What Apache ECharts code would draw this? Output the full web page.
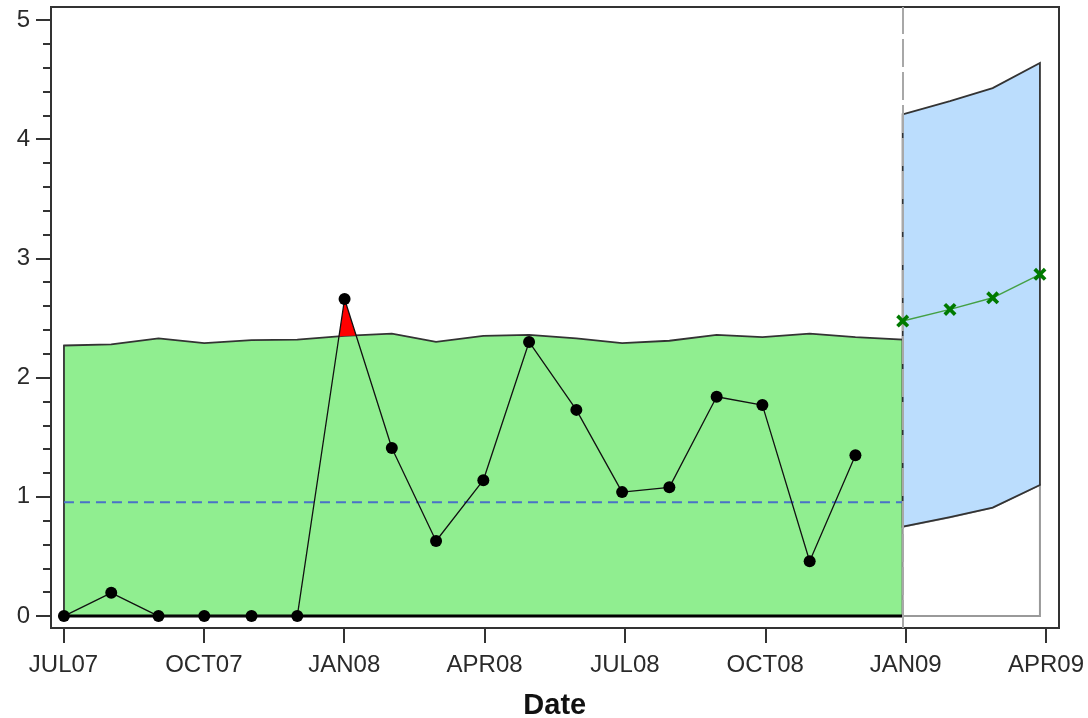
<!DOCTYPE html>
<html>
<head>
<meta charset="utf-8">
<script src="https://cdn.jsdelivr.net/npm/echarts@6/dist/echarts.min.js"></script>
<style>html,body{margin:0;padding:0;background:#fff}#c{width:1088px;height:718px}</style>
</head>
<body>
<div id="c"></div>
<script>
// ---- data ----
const obsDates = ['2007-07-01','2007-08-01','2007-09-01','2007-10-01','2007-11-01','2007-12-01','2008-01-01','2008-02-01','2008-03-01','2008-04-01','2008-05-01','2008-06-01','2008-07-01','2008-08-01','2008-09-01','2008-10-01','2008-11-01','2008-12-01'];
const actual = [0, 0.195, 0, 0, 0, 0, 2.66, 1.41, 0.63, 1.14, 2.30, 1.73, 1.04, 1.08, 1.84, 1.77, 0.46, 1.35];
const limitDates = obsDates.concat(['2009-01-01']);
const upperLimit = [2.27, 2.28, 2.33, 2.29, 2.315, 2.32, 2.35, 2.37, 2.30, 2.35, 2.36, 2.33, 2.29, 2.31, 2.36, 2.34, 2.37, 2.34, 2.32];
const meanValue = 0.955;
const fcDates = ['2009-01-01','2009-02-01','2009-03-01','2009-04-01'];
const forecast = [2.475, 2.573, 2.67, 2.867];
const fcUpper = [4.21, 4.32, 4.43, 4.64];
const fcLower = [0.75, 0.83, 0.91, 1.10];
const tickLabels = ['JUL07','OCT07','JAN08','APR08','JUL08','OCT08','JAN09','APR09'];
const cutoffDate = '2009-01-01';

// ---- helpers ----
const DAY = 86400000;
const T = s => Date.parse(s + 'T00:00:00Z');
const t0 = T(obsDates[0]);
const FONT = "'Liberation Sans', Arial, sans-serif";

const obsPts = obsDates.map((d, i) => [T(d), actual[i]]);
const limPts = limitDates.map((d, i) => [T(d), upperLimit[i]]);
const fcPts = fcDates.map((d, i) => [T(d), forecast[i]]);
const fcUpPts = fcDates.map((d, i) => [T(d), fcUpper[i]]);
const fcLoPts = fcDates.map((d, i) => [T(d), fcLower[i]]);

// polygons
const greenPoly = limPts.concat([[limPts[limPts.length-1][0], 0], [limPts[0][0], 0]]);
const bluePoly = fcUpPts.concat(fcLoPts.slice().reverse());
const whitePoly = fcLoPts.concat([[fcLoPts[fcLoPts.length-1][0], 0], [fcLoPts[0][0], 0]]);
const zeroLine = [[limPts[0][0], 0], [limPts[limPts.length-1][0], 0]];

// exceedance polygons (actual above limit)
function exceedPolys() {
  const polys = [];
  let cur = null;
  const d = actual.map((v, i) => v - upperLimit[i]);
  for (let i = 0; i < actual.length; i++) {
    const x = obsPts[i][0];
    if (i > 0 && ((d[i-1] > 0) !== (d[i] > 0))) {
      const f = d[i-1] / (d[i-1] - d[i]);
      const xp = obsPts[i-1][0];
      const xc = xp + f * (x - xp);
      const yc = upperLimit[i-1] + f * (upperLimit[i] - upperLimit[i-1]);
      if (cur) {
        cur.top.push([xc, yc]);
        polys.push(cur.top.concat(cur.bottom.slice().reverse()));
        cur = null;
      } else {
        cur = {top: [[xc, yc]], bottom: []};
      }
    }
    if (d[i] > 0) {
      if (!cur) cur = {top: [], bottom: []};
      cur.top.push([x, actual[i]]);
      cur.bottom.push([x, upperLimit[i]]);
    }
  }
  if (cur) polys.push(cur.top.concat(cur.bottom.slice().reverse()));
  return polys;
}
const redPolys = exceedPolys();

function polySeries(polys, style, z) {
  return {
    type: 'custom', xAxisIndex: 0, yAxisIndex: 0, z: z, silent: true, clip: false,
    data: [[t0, 0]],
    renderItem: (params, api) => ({
      type: 'group',
      children: polys.map(p => ({
        type: 'polygon',
        shape: { points: p.map(q => api.coord(q)) },
        style: style
      }))
    })
  };
}

const xSym = 'path://M2,0 L5,3 L8,0 L10,2 L7,5 L10,8 L8,10 L5,7 L2,10 L0,8 L3,5 L0,2 Z';

const chart = echarts.init(document.getElementById('c'));
chart.setOption({
  animation: false,
  backgroundColor: '#fff',
  grid: [
    { left: 51, top: 7, width: 1008, height: 621, show: true, borderColor: '#333', borderWidth: 2, backgroundColor: 'transparent', outerBoundsMode: 'none', containLabel: false },
    { left: 51, top: 20, width: 1008, height: 596, outerBoundsMode: 'none', containLabel: false },
    { left: 63.5, top: 7, width: 982.5, height: 621, outerBoundsMode: 'none', containLabel: false }
  ],
  xAxis: [
    { gridIndex: 0, type: 'time', min: t0 - 8.5 * DAY, max: t0 + 652.5 * DAY,
      axisLine: {show: false}, axisTick: {show: false}, axisLabel: {show: false}, splitLine: {show: false} },
    { gridIndex: 1, type: 'value', show: false },
    { gridIndex: 2, type: 'value', min: 0, max: 21, interval: 3,
      axisLine: {show: false},
      axisTick: {show: true, length: 15, lineStyle: {color: '#333', width: 2}},
      axisLabel: {formatter: v => tickLabels[Math.round(v / 3)], margin: 25, fontSize: 24, color: '#2a2a2a', fontFamily: FONT},
      splitLine: {show: false},
      name: 'Date', nameLocation: 'middle', nameGap: 63, nameMoveOverlap: false,
      nameTextStyle: {fontSize: 29, fontWeight: 'bold', color: '#111', fontFamily: FONT} }
  ],
  yAxis: [
    { gridIndex: 0, type: 'value', min: -0.1, max: 5.11, show: false },
    { gridIndex: 1, type: 'value', min: 0, max: 5, interval: 1,
      axisLine: {show: false},
      axisTick: {show: true, length: 15, lineStyle: {color: '#333', width: 2}},
      minorTick: {show: true, splitNumber: 5, length: 8, lineStyle: {color: '#333', width: 2}},
      axisLabel: {margin: 21, fontSize: 24, color: '#2a2a2a', fontFamily: FONT},
      splitLine: {show: false} },
    { gridIndex: 2, type: 'value', min: 0, max: 1, show: false }
  ],
  series: [
    { type: 'line', xAxisIndex: 0, yAxisIndex: 0, data: [], z: 1, silent: true,
      markLine: { silent: true, symbol: ['none', 'none'], label: {show: false},
        lineStyle: {color: '#a8a8a8', type: [28, 5], width: 2},
        data: [{xAxis: T(cutoffDate)}] } },
    polySeries([greenPoly], {fill: '#90EE90', stroke: '#333', lineWidth: 1.8}, 2),
    polySeries([whitePoly], {fill: '#ffffff', stroke: '#999', lineWidth: 2}, 2),
    polySeries([bluePoly], {fill: '#BBDDFD', stroke: '#333', lineWidth: 1.8}, 2),
    polySeries(redPolys, {fill: '#FF0000', stroke: null, lineWidth: 0}, 3),
    { type: 'line', xAxisIndex: 0, yAxisIndex: 0, z: 3, silent: true,
      data: zeroLine, symbol: 'none', lineStyle: {color: '#000', width: 3} },
    { type: 'line', xAxisIndex: 0, yAxisIndex: 0, z: 4, silent: true,
      data: [[T(limitDates[0]), meanValue], [T(limitDates[limitDates.length-1]), meanValue]],
      symbol: 'none', lineStyle: {color: '#4A72C8', width: 2, type: [10, 6]} },
    { type: 'line', xAxisIndex: 0, yAxisIndex: 0, z: 5, silent: true,
      data: obsPts, symbol: 'circle', symbolSize: 12,
      itemStyle: {color: '#000'}, lineStyle: {color: '#111', width: 1.3} },
    { type: 'line', xAxisIndex: 0, yAxisIndex: 0, z: 5, silent: true,
      data: fcPts, symbol: xSym, symbolSize: 13,
      itemStyle: {color: '#007A00'}, lineStyle: {color: '#44A044', width: 1.5} }
  ]
});
</script>
</body>
</html>
